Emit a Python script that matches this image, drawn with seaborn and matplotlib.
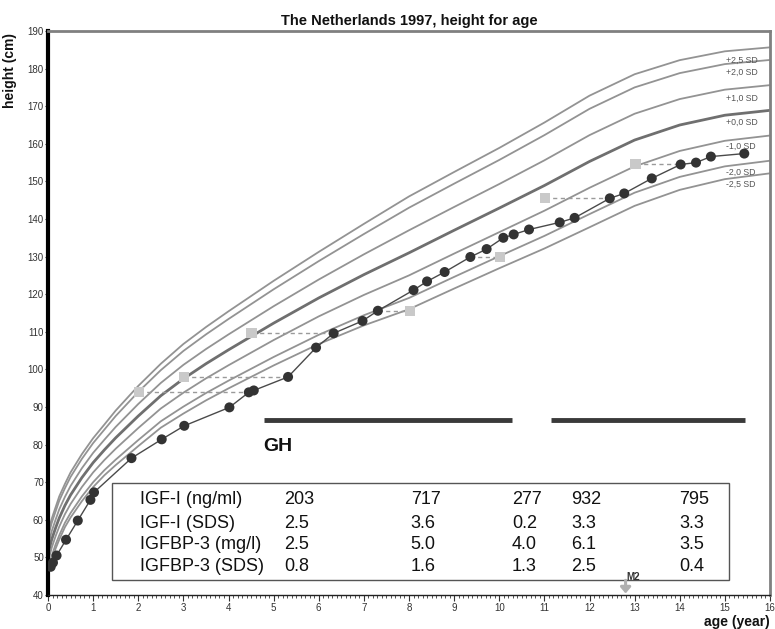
import numpy as np
import pandas as pd
import matplotlib
matplotlib.use("Agg")
import matplotlib.pyplot as plt
import seaborn as sns
from matplotlib.patches import Rectangle
from matplotlib.ticker import MultipleLocator

# ---------------- data ----------------
ref_age = [0, 0.083, 0.167, 0.25, 0.375, 0.5, 0.75, 1, 1.25, 1.5, 2, 2.5, 3, 3.5, 4,
           5, 6, 7, 8, 9, 10, 11, 12, 13, 14, 15, 16]
ref_median = [51.0, 54.8, 57.8, 60.5, 63.8, 66.6, 71.2, 75.2, 78.6, 81.8, 87.6, 93.0,
              97.5, 101.5, 105.2, 112.3, 119.0, 125.2, 131.0, 137.0, 142.9, 148.9,
              155.3, 161.0, 165.0, 167.6, 168.9]
ref_sd = [2.2, 2.2, 2.2, 2.3, 2.3, 2.4, 2.5, 2.6, 2.7, 2.9, 3.2, 3.4, 3.7, 3.9, 4.1,
          4.5, 4.9, 5.4, 6.0, 6.2, 6.4, 6.7, 7.0, 7.0, 6.9, 6.8, 6.7]
sd_levels = [2.5, 2.0, 1.0, 0.0, -1.0, -2.0, -2.5]
sd_labels = ["+2,5 SD", "+2,0 SD", "+1,0 SD", "+0,0 SD", "-1,0 SD", "-2,0 SD", "-2,5 SD"]
sd_label_y = [182.3, 178.9, 172.0, 165.6, 159.2, 152.5, 149.2]

child_age = [0.06, 0.11, 0.19, 0.40, 0.66, 0.94, 1.02, 1.85, 2.52, 3.02, 4.02, 4.45,
             4.56, 5.32, 5.94, 6.33, 6.97, 7.31, 8.10, 8.40, 8.79, 9.36, 9.72, 10.09,
             10.32, 10.66, 11.34, 11.67, 12.45, 12.77, 13.38, 14.02, 14.36, 14.69, 15.43]
child_height = [47.5, 48.6, 50.5, 54.7, 59.8, 65.3, 67.3, 76.4, 81.4, 85.0, 89.9, 93.9,
                94.4, 98.0, 105.8, 109.6, 112.9, 115.6, 121.1, 123.4, 125.9, 129.9, 132.0,
                135.0, 135.9, 137.2, 139.1, 140.3, 145.5, 146.8, 150.8, 154.5, 155.0,
                156.6, 157.4]

bone_age = [2.02, 3.02, 4.51, 8.02, 10.02, 11.02, 13.02]
bone_chron_age = [4.45, 5.32, 6.33, 7.31, 9.36, 12.45, 14.02]
bone_height = [93.9, 98.0, 109.6, 115.6, 129.9, 145.5, 154.6]

gh_start = [4.78, 11.15]
gh_end = [10.28, 15.44]
gh_level = 86.6

lab_rows = ["IGF-I (ng/ml)", "IGF-I (SDS)", "IGFBP-3 (mg/l)", "IGFBP-3 (SDS)"]
lab_values = [["203", "717", "277", "932", "795"],
              ["2.5", "3.6", "0.2", "3.3", "3.3"],
              ["2.5", "5.0", "4.0", "6.1", "3.5"],
              ["0.8", "1.6", "1.3", "2.5", "0.4"]]
lab_col_x = [5.24, 8.04, 10.28, 11.60, 13.98]
lab_row_y = [65.3, 59.1, 53.3, 47.5]

m2_age = 12.80

# ---------------- figure ----------------
sns.set_style("white")
plt.rcParams["font.family"] = ["Liberation Sans", "DejaVu Sans"]

fig = plt.figure(figsize=(7.75, 6.29), dpi=100)
ax = fig.add_axes([48 / 775, 1 - 595 / 629, 722 / 775, 564 / 629])

ref_rows = []
for lvl, lab in zip(sd_levels, sd_labels):
    for a, m, s in zip(ref_age, ref_median, ref_sd):
        ref_rows.append({"age": a, "height": m + lvl * s, "line": lab})
ref_df = pd.DataFrame(ref_rows)

others = ref_df[ref_df["line"] != "+0,0 SD"]
sns.lineplot(data=others, x="age", y="height", units="line", estimator=None,
             color="#939393", lw=1.3, ax=ax, sort=False, zorder=2)
sns.lineplot(data=ref_df[ref_df["line"] == "+0,0 SD"], x="age", y="height",
             color="#6f6f6f", lw=2.0, ax=ax, sort=False, zorder=2)

for lab, yv in zip(sd_labels, sd_label_y):
    ax.text(15.02, yv, lab, fontsize=6.3, color="#555555", va="center", ha="left", zorder=3)

# bone age dashed links
for b, c, h in zip(bone_age, bone_chron_age, bone_height):
    sns.lineplot(x=[b, c], y=[h, h], color="#9a9a9a", lw=1.0, linestyle=(0, (3, 2.5)),
                 ax=ax, zorder=3)

sns.scatterplot(x=bone_age, y=bone_height, marker="s", s=55, color="#c9c9c9",
                edgecolor="none", ax=ax, zorder=4)

sns.lineplot(x=child_age, y=child_height, color="#4a4a4a", lw=1.0, sort=False,
             ax=ax, zorder=5)
sns.scatterplot(x=child_age, y=child_height, s=52, color="#333333", edgecolor="none",
                ax=ax, zorder=6)

# GH treatment bars
for s0, s1 in zip(gh_start, gh_end):
    ax.plot([s0, s1], [gh_level, gh_level], color="#3a3a3a", lw=3.5,
            solid_capstyle="butt", zorder=4)
ax.text(gh_start[0], 79.6, "GH", fontsize=14, fontweight="bold", va="center",
        ha="left", color="#111111")

# lab table
ax.add_patch(Rectangle((1.42, 44.0), 15.09 - 1.42, 69.9 - 44.0, facecolor="white",
                       edgecolor="#555555", lw=1.0, zorder=7))
for r, (name, vals) in enumerate(zip(lab_rows, lab_values)):
    ax.text(2.04, lab_row_y[r], name, fontsize=13, va="center", ha="left", zorder=8,
            color="#111111")
    for cx, v in zip(lab_col_x, vals):
        ax.text(cx, lab_row_y[r], v, fontsize=13, va="center", ha="left", zorder=8,
                color="#111111")

# M2 marker
ax.annotate("", xy=(m2_age, 40.4), xytext=(m2_age, 43.9),
            arrowprops=dict(arrowstyle="-|>,head_length=0.35,head_width=0.3",
                            color="#b0b0b0", lw=2.2, shrinkA=0, shrinkB=0,
                            mutation_scale=10), zorder=9)
ax.text(m2_age + 0.02, 44.7, "M2", fontsize=7, fontweight="bold", va="center",
        ha="left", color="#333333", zorder=9)

# axes
ax.set_xlim(0, 16)
ax.set_ylim(40, 190)
ax.xaxis.set_major_locator(MultipleLocator(1))
ax.xaxis.set_minor_locator(MultipleLocator(0.1))
ax.yaxis.set_major_locator(MultipleLocator(10))
ax.tick_params(axis="x", which="major", length=4, width=0.8, color="#333333",
               labelsize=7, labelcolor="#333333", pad=1.5, bottom=True)
ax.tick_params(axis="x", which="minor", length=2, width=0.6, color="#333333",
               bottom=True)
ax.tick_params(axis="y", which="major", length=2.5, width=0.8, color="#333333",
               labelsize=7, labelcolor="#333333", pad=0.5, left=True)

for side in ["top", "right"]:
    ax.spines[side].set_visible(True)
    ax.spines[side].set_color("#808080")
    ax.spines[side].set_linewidth(2)
ax.spines["left"].set_color("black")
ax.spines["left"].set_linewidth(3)
ax.spines["bottom"].set_color("#222222")
ax.spines["bottom"].set_linewidth(1)

ax.set_ylabel("height (cm)", fontsize=10, fontweight="bold", color="#111111")
ax.yaxis.set_label_coords(-0.043, 0.93)
ax.set_xlabel("age (year)", fontsize=10, fontweight="bold", color="#111111")
ax.xaxis.set_label_coords(1.0, -0.035)
ax.xaxis.label.set_horizontalalignment("right")
ax.set_title("The Netherlands 1997, height for age", fontsize=10.5,
             fontweight="bold", color="#111111", pad=4)

fig.savefig("out.png", dpi=100)
